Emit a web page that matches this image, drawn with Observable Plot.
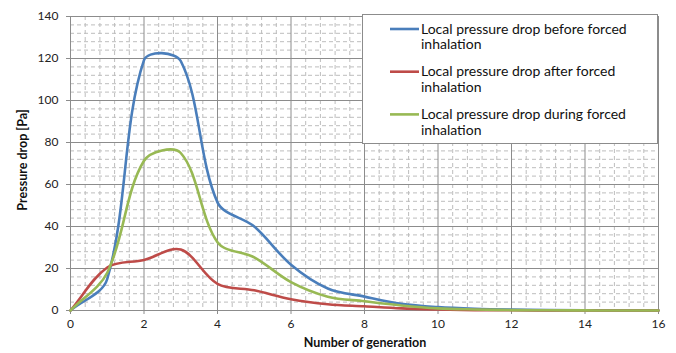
<!DOCTYPE html>
<html><head><meta charset="utf-8">
<script src="https://cdn.jsdelivr.net/npm/d3@7"></script>
<script src="https://cdn.jsdelivr.net/npm/@observablehq/plot@0.6"></script>
<style>
body{margin:0;background:#fff;}
#chart svg{font-family:Lato,"Noto Sans",sans-serif;}
</style>
</head><body><div id="chart"></div>
<script>
// Data
const generations = [0,1,2,3,4,5,6,7,8,9,10,11,12,13,14,15,16];
const before = [0,15,119.2,118.8,51.5,40,21.8,10.5,6.6,3.2,1.6,0.8,0.4,0.2,0.1,0.05,0];
const after  = [0,20.5,24.1,29,12.7,9.6,5.4,3,2,1,0.5,0.2,0.1,0.05,0,0,0];
const during = [0,18,71.3,75,32.5,25.3,13.5,6.6,4.4,2.4,1.0,0.5,0.2,0.1,0.05,0,0];
const seriesNames = [
  "Local pressure drop before forced inhalation",
  "Local pressure drop after forced inhalation",
  "Local pressure drop during forced inhalation"
];
const legendLines = [
  ["Local pressure drop before forced", "inhalation"],
  ["Local pressure drop after forced", "inhalation"],
  ["Local pressure drop during forced", "inhalation"]
];
const seriesColors = ["#4a7ebb", "#be4b48", "#98b954"];
const xTicks = [0,2,4,6,8,10,12,14,16];
const yTicks = [0,20,40,60,80,100,120,140];
const xMinor = d3.range(0, 16.001, 0.4).filter(v => Math.abs(v/2 - Math.round(v/2)) > 1e-6);
const yMinor = d3.range(0, 141, 4).filter(v => v % 20 !== 0);

const rows = [];
[before, after, during].forEach((vals, i) => {
  vals.forEach((v, j) => rows.push({series: seriesNames[i], gen: generations[j], value: v}));
});

// Spreadsheet-style smoothed line: cubic Bezier with control points scaled by segment lengths
function smoothCurve(context) {
  let pts;
  return {
    areaStart() {}, areaEnd() {},
    lineStart() { pts = []; },
    point(x, y) { pts.push([+x, +y]); },
    lineEnd() {
      const n = pts.length;
      if (!n) return;
      context.moveTo(pts[0][0], pts[0][1]);
      if (n === 1) return;
      const f = 1 / 3;
      const cin = [], cout = [];
      for (let i = 0; i < n; i++) {
        const p = pts[i];
        const prev = pts[Math.max(0, i - 1)], next = pts[Math.min(n - 1, i + 1)];
        const tx = next[0] - prev[0], ty = next[1] - prev[1];
        const d0 = Math.hypot(p[0] - prev[0], p[1] - prev[1]);
        const d1 = Math.hypot(next[0] - p[0], next[1] - p[1]);
        const s = (d0 + d1) || 1;
        cin[i] = [p[0] - tx * f * d0 / s, p[1] - ty * f * d0 / s];
        cout[i] = [p[0] + tx * f * d1 / s, p[1] + ty * f * d1 / s];
      }
      for (let i = 0; i < n - 1; i++) {
        context.bezierCurveTo(cout[i][0], cout[i][1], cin[i + 1][0], cin[i + 1][1], pts[i + 1][0], pts[i + 1][1]);
      }
    }
  };
}

const W = 676, H = 353;
const chart = Plot.plot({
  width: W, height: H,
  marginLeft: 70, marginRight: 18, marginTop: 16, marginBottom: 43,
  style: {fontFamily: "Lato, 'Noto Sans', sans-serif", fontSize: "12px", color: "#222", background: "#fff"},
  x: {domain: [0, 16]},
  y: {domain: [0, 140]},
  color: {domain: seriesNames, range: seriesColors},
  marks: [
    Plot.ruleX(xMinor, {stroke: "#bdbdbd", strokeDasharray: "4,3", strokeWidth: 1}),
    Plot.ruleY(yMinor, {stroke: "#bdbdbd", strokeDasharray: "4,3", strokeWidth: 1}),
    Plot.ruleX(xTicks, {stroke: "#8c8c8c", strokeWidth: 1}),
    Plot.ruleY(yTicks, {stroke: "#8c8c8c", strokeWidth: 1}),
    Plot.axisX({ticks: xTicks, tickSize: 4, tickPadding: 5, label: null, stroke: "#8c8c8c", fontSize: 12, fill: "#222"}),
    Plot.axisY({ticks: yTicks, tickSize: 4, tickPadding: 8, label: null, stroke: "#8c8c8c", fontSize: 12, fill: "#222"}),
    Plot.line(rows, {x: "gen", y: "value", z: "series", stroke: "series", strokeWidth: 2.6, curve: smoothCurve})
  ]
});
document.getElementById("chart").appendChild(chart);

const svg = d3.select(chart);
svg.append("text").attr("x", 365).attr("y", 347).attr("text-anchor", "middle")
  .attr("font-weight", "bold").attr("font-size", 12.5).attr("fill", "#111").text("Number of generation");
svg.append("text").attr("transform", "translate(27,160) rotate(-90)").attr("text-anchor", "middle")
  .attr("font-weight", "bold").attr("font-size", 12.5).attr("fill", "#111").text("Pressure drop [Pa]");

// Legend
const lg = svg.append("g").attr("transform", "translate(362,14)");
lg.append("rect").attr("x", 0.5).attr("y", 0.5).attr("width", 295).attr("height", 129)
  .attr("fill", "#fff").attr("stroke", "#8c8c8c");
legendLines.forEach((lines, i) => {
  const yLine = 15 + i * 42.7;
  lg.append("line").attr("x1", 28).attr("x2", 57).attr("y1", yLine).attr("y2", yLine)
    .attr("stroke", seriesColors[i]).attr("stroke-width", 2.6);
  lines.forEach((t, k) => {
    lg.append("text").attr("x", 59).attr("y", yLine + 4.5 + k * 15.7).attr("font-size", 14)
      .attr("text-anchor", "start").attr("fill", "#111").text(t);
  });
});
</script>
</body></html>
